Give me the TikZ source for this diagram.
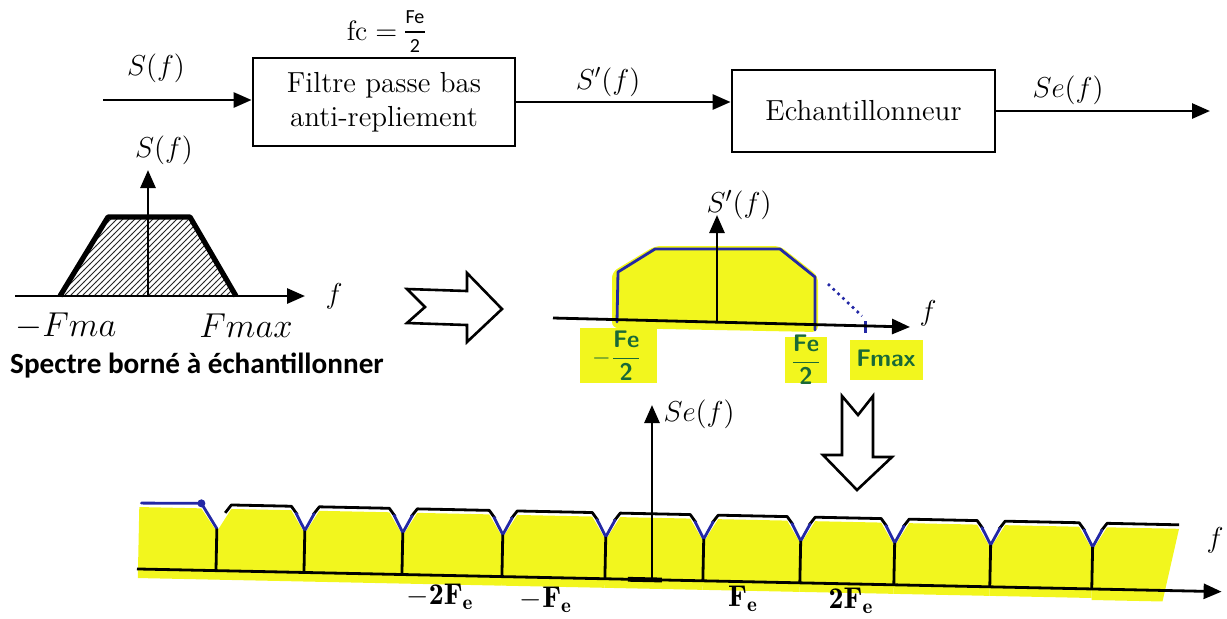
\documentclass[tikz,border=0pt]{standalone}
\usepackage{amsmath}
\usepackage{fontspec}
\newfontfamily\calib{Carlito}
\usetikzlibrary{arrows.meta,patterns}
\definecolor{hyel}{RGB}{242,246,30}
\definecolor{pblue}{RGB}{35,40,165}
\definecolor{pgreen}{RGB}{25,105,55}
\begin{document}
\begin{tikzpicture}[x=0.5pt,y=-0.5pt,
  arr/.style={line width=1.4pt,-{Triangle[length=9pt,width=7.5pt]}},
  blk/.style={draw,line width=1.4pt,align=center,inner sep=0pt,font=\fontsize{14.5}{17}\selectfont},
  lab/.style={inner sep=1pt,font=\fontsize{14}{16}\selectfont},
  blab/.style={inner sep=1pt,font=\fontsize{15}{17}\selectfont},
  fr/.style={inner sep=0pt,font=\fontsize{10}{11}\selectfont\calib},
  glab/.style={inner sep=0pt,text=pgreen,font=\fontsize{12}{14}\selectfont\sffamily\bfseries},
  hollow/.style={draw,line width=1.3pt,fill=white,line join=miter},
  topk/.style={line width=1.4pt,line join=round},
  blu/.style={pblue,line width=1.4pt,line join=round,line cap=round},
]
\useasboundingbox (0,0) rectangle (1227,618);

% ---------- top block diagram ----------
\node[blk,minimum width=131pt,minimum height=44pt] (filt) at (384,102) {Filtre passe bas\\anti-repliement};
\node[blk,minimum width=131.5pt,minimum height=41pt] (ech) at (863.5,111) {Echantillonneur};
\node[inner sep=1pt,font=\fontsize{14}{16}\selectfont] (fc) at (372,31) {$\mathrm{fc}=$};
\node[fr] (fcn) at (415,17) {Fe};
\node[fr] (fcd) at (415,46) {2};
\draw[line width=0.6pt] (405,32) -- (425,32);
\coordinate (in) at (103,100);
\coordinate (out) at (1210,111);
\draw[arr] (in) -- (in -| filt.west);
\draw[arr] (filt.east) -- (filt.east -| ech.west);
\draw[arr] (ech.east) -- (out);
\node[lab] (lS) at (156,68) {$S(f)$};
\node[lab] (lSp) at (608,82) {$S'(f)$};
\node[lab] (lSe) at (1068,90) {$Se(f)$};

% ---------- left spectrum ----------
\coordinate (a1s) at (15,296);
\coordinate (a1e) at (305,296);
\coordinate (o1) at (148,296);
\coordinate (v1) at (148,170);
\draw[pattern=north east lines,pattern color=black!85,line width=2.6pt,line join=round]
  (60,296) -- (108,217) -- (190,217) -- (236,296);
\draw[arr] (a1s) -- (a1e);
\draw[arr] (o1) -- (v1);
\node[blab] (S1) at (164,150) {$S(f)$};
\node[blab] (f1) at (334,296) {$f$};
\node[inner sep=1pt,font=\fontsize{16.5}{19}\selectfont] (fm1) at (66,326) {$-Fma$};
\node[inner sep=1pt,font=\fontsize{16.5}{19}\selectfont] (fm2) at (246,326) {$Fmax$};
\node[inner sep=0pt,font=\fontsize{14.6}{17}\selectfont\calib\bfseries] (spec) at (197,366) {Spectre borné à échantillonner};

% ---------- hollow arrows ----------
\draw[hollow] (407,289) -- (467,291) -- (467,273) -- (502,309) -- (467,342) -- (467,325) -- (407,323) -- (425,307) -- cycle;
\draw[hollow] (842,396) -- (858,415) -- (873,396) -- (873,457) -- (892,457) -- (857,490) -- (823,455) -- (842,455) -- cycle;

% ---------- middle spectrum ----------
\fill[hyel,rounded corners=3pt] (612,328) -- (612,272) -- (655,246) -- (780,246) -- (818,276) -- (818,332) -- cycle;
\draw[blu] (617,322) -- (618,272) -- (655,249) -- (780,249) -- (815,277) -- (815,330);
\draw[pblue,line width=1.3pt,dotted] (828,284) -- (862,316);
\draw[pblue,line width=1.5pt] (865,321) -- (865,333);
\coordinate (a2s) at (553,318);
\coordinate (a2e) at (910,327);
\coordinate (o2) at (717,322);
\coordinate (v2) at (717,215);
\draw[arr] (a2s) -- (a2e);
\draw[arr] (o2) -- (v2);
\node[blab] (S2) at (739,205) {$S'(f)$};
\node[blab] (f2) at (928,313) {$f$};
\fill[hyel] (580,328) rectangle (657,383);
\fill[hyel] (785,337) rectangle (827,383);
\fill[hyel] (850,340) rectangle (923,380);
\node[glab] (g1) at (617,356) {$-\dfrac{\textsf{\textbf{Fe}}}{\textsf{\textbf{2}}}$};
\node[glab] (g2) at (806,360) {$\dfrac{\textsf{\textbf{Fe}}}{\textsf{\textbf{2}}}$};
\node[glab] (g3) at (886,358) {Fmax};

% ---------- bottom spectrum ----------
\begin{scope}[rotate around={-1.2:(137,569)}]
  % yellow
  \fill[hyel] (138,578) -- (138,507) -- (200,507) -- (216,530) -- (216,578) -- cycle;
  \foreach \a/\b in {216/304,304/402,402/502,502/605,605/703,703/800,800/894,894/990,990/1092}{
    \fill[hyel] (\a,530) -- (\a+14,507) -- (\b-14,507) -- (\b,530) -- (\b,578) -- (\a,578) -- cycle;
  }
  \fill[hyel] (1092,530) -- (1106,507) -- (1178,507) -- (1163,580) -- (1092,580) -- cycle;
  % outlines
  \foreach \a/\b in {216/304,304/402,402/502,502/605,605/703,703/800,800/894,894/990,990/1092}{
    \draw[topk] (\a+8,511) -- (\a+14,503) -- (\b-14,503) -- (\b-8,511);
  }
  \draw[topk] (1100,511) -- (1106,503) -- (1178,503);
  \draw[blu] (140,503) -- (200,502) -- (216,527);
  \fill[pblue] (200,502) circle (2pt);
  \foreach \b in {304,402,502,605,703,800,894,990,1092}{
    \draw[blu] (\b-9,510) -- (\b,527) -- (\b+9,510);
  }
  \foreach \b in {216,304,402,502,605,703,800,894,990,1092}{
    \draw[line width=1.4pt] (\b,527) -- (\b,569);
  }
  \coordinate (a3s) at (137,569);
  \coordinate (a3e) at (1222,569);
  \draw[arr] (a3s) -- (a3e);
  \draw[line width=2.4pt] (628,569) -- (662,569);
\end{scope}
\coordinate (o3) at (652,580);
\coordinate (v3) at (652,405);
\draw[arr] (o3) -- (v3);
\node[lab] (S3) at (699,414) {$Se(f)$};
\node[blab] (f3) at (1215,540) {$f$};
\node[blab] (t1) at (440,597) {$\mathbf{-2F_e}$};
\node[blab] (t2) at (546,600) {$\mathbf{-F_e}$};
\node[blab] (t3) at (743,599) {$\mathbf{F_e}$};
\node[blab] (t4) at (851,601) {$\mathbf{2F_e}$};
\end{tikzpicture}
\end{document}
